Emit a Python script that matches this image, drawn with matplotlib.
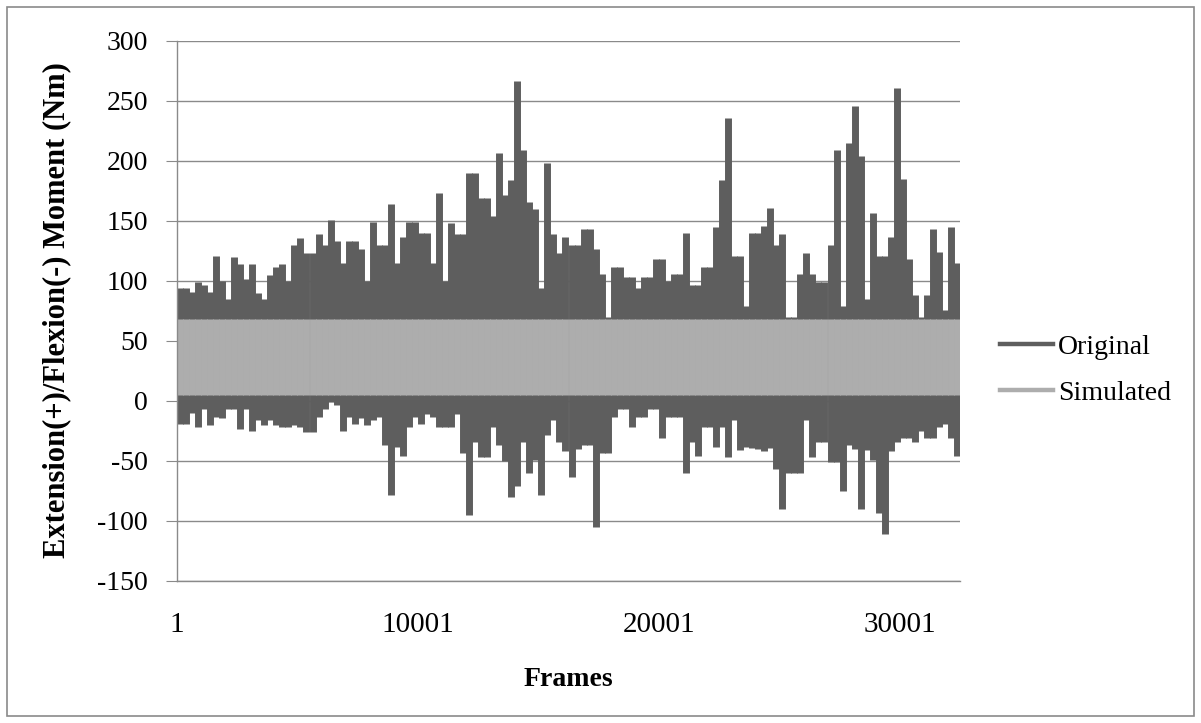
import numpy as np
import matplotlib
matplotlib.use('Agg')
import matplotlib.pyplot as plt
from matplotlib.lines import Line2D
from matplotlib.patches import Rectangle

# peak / trough of each ~250-frame cycle
orig_peaks = [94, 94, 91, 99, 97, 91, 121, 100, 85, 120,
              114, 102, 114, 90, 85, 105, 112, 114, 100, 130,
              136, 123, 123, 139, 130, 151, 133, 115, 133, 133,
              127, 100, 149, 130, 130, 164, 115, 137, 149, 149,
              140, 140, 115, 173, 100, 148, 139, 139, 190, 190,
              169, 169, 154, 207, 172, 184, 267, 209, 166, 160,
              94, 198, 139, 123, 137, 130, 130, 143, 143, 127,
              106, 70, 112, 112, 103, 103, 94, 103, 103, 118,
              118, 100, 106, 106, 140, 97, 97, 112, 112, 145,
              184, 236, 121, 121, 79, 140, 140, 146, 161, 130,
              139, 70, 70, 106, 123, 106, 99, 99, 130, 209,
              79, 215, 246, 204, 85, 157, 121, 121, 137, 261,
              185, 118, 88, 70, 88, 143, 124, 76, 145, 115]

orig_troughs = [-19, -19, -10, -22, -7, -20, -13, -14, -7, -7,
                -23, -7, -25, -16, -20, -16, -20, -22, -22, -20,
                -22, -26, -26, -13, -7, -1, -3, -25, -13, -19,
                -14, -20, -16, -13, -37, -78, -38, -46, -22, -13,
                -19, -11, -13, -22, -22, -22, -11, -43, -95, -34,
                -47, -47, -22, -37, -50, -80, -71, -34, -60, -49,
                -78, -28, -16, -34, -42, -63, -40, -37, -37, -105,
                -43, -43, -13, -7, -7, -22, -13, -13, -7, -7,
                -31, -13, -13, -13, -60, -34, -46, -22, -22, -38,
                -22, -47, -16, -41, -38, -39, -40, -42, -39, -57,
                -90, -60, -60, -60, -16, -47, -34, -34, -51, -51,
                -75, -37, -40, -90, -41, -49, -93, -111, -42, -34,
                -31, -31, -34, -25, -31, -31, -22, -19, -31, -46]

sim_peaks = [68, 68, 68, 68, 68, 68, 68, 68, 68, 68,
             68, 68, 68, 68, 68, 68, 68, 68, 68, 68,
             68, 68, 68, 68, 68, 68, 68, 68, 68, 68,
             68, 68, 68, 68, 68, 68, 68, 68, 68, 68,
             68, 68, 68, 68, 68, 68, 68, 68, 68, 68,
             68, 68, 68, 68, 68, 68, 68, 68, 68, 68,
             68, 68, 68, 68, 68, 68, 68, 68, 68, 68,
             68, 68, 68, 68, 68, 68, 68, 68, 68, 68,
             68, 68, 68, 68, 68, 68, 68, 68, 68, 68,
             68, 68, 68, 68, 68, 68, 68, 68, 68, 68,
             68, 68, 68, 68, 68, 68, 68, 68, 68, 68,
             68, 68, 68, 68, 68, 68, 68, 68, 68, 68,
             68, 68, 68, 68, 68, 68, 68, 68, 68, 68]

sim_troughs = [5, 5, 5, 5, 5, 5, 5, 5, 5, 5,
               5, 5, 5, 5, 5, 5, 5, 5, 5, 5,
               5, 5, 5, 5, 5, 5, 5, 5, 5, 5,
               5, 5, 5, 5, 5, 5, 5, 5, 5, 5,
               5, 5, 5, 5, 5, 5, 5, 5, 5, 5,
               5, 5, 5, 5, 5, 5, 5, 5, 5, 5,
               5, 5, 5, 5, 5, 5, 5, 5, 5, 5,
               5, 5, 5, 5, 5, 5, 5, 5, 5, 5,
               5, 5, 5, 5, 5, 5, 5, 5, 5, 5,
               5, 5, 5, 5, 5, 5, 5, 5, 5, 5,
               5, 5, 5, 5, 5, 5, 5, 5, 5, 5,
               5, 5, 5, 5, 5, 5, 5, 5, 5, 5,
               5, 5, 5, 5, 5, 5, 5, 5, 5, 5]

x_ticks = [1, 10001, 20001, 30001]
y_ticks = [-150, -100, -50, 0, 50, 100, 150, 200, 250, 300]
series_names = ['Original', 'Simulated']

plt.rcParams['font.family'] = ['Liberation Serif', 'DejaVu Serif']
plt.rcParams['axes.unicode_minus'] = False

# one cycle every 250 frames; the signal swings so fast that each
# cycle shows up as a solid vertical stroke from trough to peak
cycle = 250
n = len(orig_peaks)
frames = 1 + cycle * np.arange(n) + cycle / 2

fig = plt.figure(figsize=(12.01, 7.23), dpi=100)
ax = fig.add_axes([177 / 1201, 1 - 581 / 723, 783 / 1201, 540 / 723])

dark = '#5e5e5e'
light = '#adadad'
stroke = 5.0
ax.vlines(frames, orig_troughs, orig_peaks, color=dark, lw=stroke,
          capstyle='butt')
ax.vlines(frames, sim_troughs, sim_peaks, color=light, lw=stroke,
          capstyle='butt')

ax.set_xlim(1, 1 + cycle * n)
ax.set_ylim(-150, 300)
ax.set_yticks(y_ticks)
ax.set_xticks(x_ticks)
ax.set_xticklabels([str(t) for t in x_ticks])
ax.grid(axis='y', color='#8a8a8a', lw=1.0)
ax.set_axisbelow(True)
for s in ['top', 'right']:
    ax.spines[s].set_visible(False)
for s in ['left', 'bottom']:
    ax.spines[s].set_color('#8a8a8a')
    ax.spines[s].set_linewidth(1.0)
ax.tick_params(axis='y', length=8, color='#8a8a8a', labelsize=20, pad=13)
ax.tick_params(axis='x', length=0, labelsize=21, pad=22)

fig.text(568 / 1201, 1 - 680 / 723, 'Frames', fontsize=20,
         fontweight='bold', ha='center', va='center')
fig.text(57 / 1201, 1 - 310 / 723, 'Extension(+)/Flexion(-) Moment (Nm)',
         fontsize=22, fontweight='bold', rotation=90, ha='center',
         va='center')

handles = [Line2D([0], [0], color=dark, lw=3.2),
           Line2D([0], [0], color=light, lw=3.2)]
fig.legend(handles, series_names, loc='center left',
           bbox_to_anchor=(986 / 1201, 1 - 370 / 723), frameon=False,
           fontsize=20, borderpad=0, handlelength=1.9, handletextpad=0.2,
           labelspacing=0.75)

# chart border
fig.add_artist(Rectangle((0.006, 0.01), 0.988, 0.98, transform=fig.transFigure,
                         fill=False, edgecolor='#8a8a8a', lw=1.2))

fig.savefig('out.png', dpi=100)
